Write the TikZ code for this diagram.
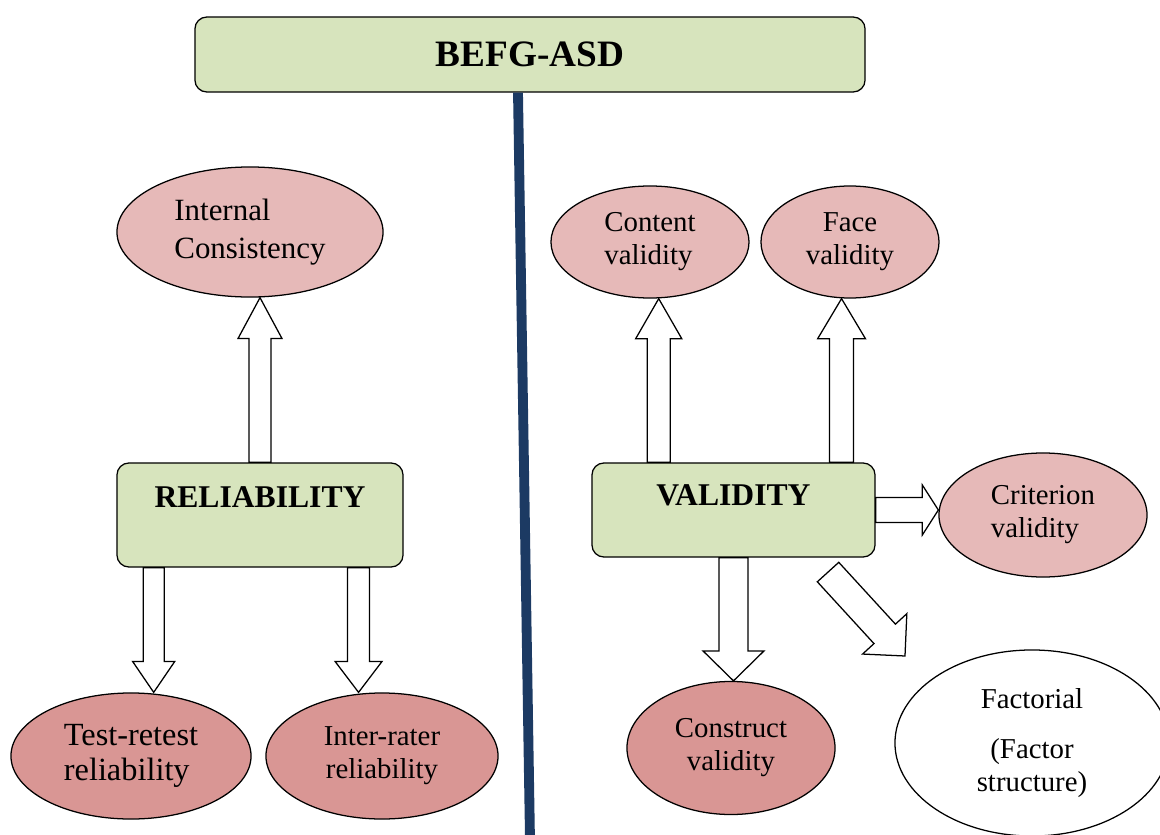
\documentclass[tikz,border=0pt]{standalone}
\usepackage{fontspec}
\setmainfont{Liberation Serif}
\usetikzlibrary{calc,shapes.geometric}

\definecolor{boxgreen}{HTML}{D7E4BD}
\definecolor{pinklt}{HTML}{E6B9B8}
\definecolor{pinkdk}{HTML}{D99694}
\definecolor{divnavy}{HTML}{1C3A63}

% one pixel of the layout grid
\newcommand{\pxu}{0.025cm}

% hollow block arrow: from, to, shaft half width, head half width, head length
\newcommand{\blockarrow}[5]{%
  \draw[hollow] let \p1=(#1), \p2=(#2),
      \n1={atan2(\y2-\y1,\x2-\x1)},
      \n2={veclen(\x2-\x1,\y2-\y1)-#5},
      \n3={#4-#3} in
    ($(\p1)+(\n1-90:#3)$) -- ++(\n1:\n2) -- ++(\n1-90:\n3) -- (\p2)
    -- ($(\p2)+(\n1+180:#5)+(\n1+90:#4)$) -- ++(\n1-90:\n3)
    -- ++(\n1+180:\n2) -- cycle;
}

\begin{document}
\begin{tikzpicture}[
    x=\pxu, y=-\pxu,
    line width=0.9pt,
    % --- node styles ---
    box/.style = {rectangle, draw=black, fill=boxgreen,
                  rounded corners=8.5pt, inner sep=0pt, align=center,
                  font=\bfseries\fontsize{22.5}{26}\selectfont},
    oval/.style = {ellipse, draw=black, inner sep=0pt, align=center,
                   font=\fontsize{20.5}{23.5}\selectfont},
    lightoval/.style = {oval, fill=pinklt},
    darkoval/.style  = {oval, fill=pinkdk},
    hollow/.style  = {draw=black, fill=white, line join=miter},
    divider/.style = {draw=divnavy, line width=7pt},
]
\useasboundingbox (0,0) rectangle (1160,835);

%============ TITLE ============
\node (befg) [box, minimum width=16.75cm, minimum height=1.875cm,
              font=\bfseries\fontsize{26.5}{30}\selectfont] at (530,54.5) {BEFG-ASD};

%============ RELIABILITY SIDE ============
\node (rel) [box, minimum width=7.15cm, text height=1.1cm, text depth=1.5cm]
  at (260,515) {RELIABILITY};

\node (ic) [lightoval, align=left, minimum width=6.65cm, minimum height=3.25cm,
            font=\fontsize{22}{27}\selectfont] at (250,232)
  {Internal\\Consistency};

\node (tr) [darkoval, align=left, minimum width=6cm, minimum height=3.15cm,
            font=\fontsize{23}{25}\selectfont] at (131,756)
  {Test-retest\\reliability};

\node (ir) [darkoval, minimum width=5.8cm, minimum height=3.15cm] at (382,756)
  {Inter-rater\\reliability};

%============ VALIDITY SIDE ============
\node (val) [box, minimum width=7.075cm, text height=1.05cm, text depth=1.3cm]
  at (733.5,510) {VALIDITY};

\node (cv) [lightoval, align=left, minimum width=4.95cm, minimum height=2.8cm]
  at (650,242) {Content\\validity};

\node (fv) [lightoval, minimum width=4.45cm, minimum height=2.8cm]
  at (850,242) {Face\\validity};

\node (crit) [lightoval, align=left, minimum width=5.2cm, minimum height=3.1cm]
  at (1043,515) {Criterion\\validity};

\node (cons) [darkoval, minimum width=5.2cm, minimum height=3.325cm]
  at (731,748) {Construct\\validity};

\node (fact) [oval, fill=white, minimum width=6.85cm, minimum height=4.65cm]
  at (1032,743) {Factorial\\[12pt](Factor\\structure)};

%============ DIVIDER ============
\coordinate (divtop) at ($(befg.south)+(-12,0)$);
\coordinate (divbot) at (530,840);
\draw[divider] (divtop) -- (divbot);

%============ BLOCK ARROWS ============
\coordinate (trS) at ($(rel.south west)!0.13!(rel.south east)$);
\coordinate (irS) at ($(rel.south west)!0.843!(rel.south east)$);
\coordinate (cvS) at ($(val.north west)!0.237!(val.north east)$);
\coordinate (fvS) at ($(val.north west)!0.88!(val.north east)$);
\coordinate (diagS) at (828,572);
\coordinate (diagE) at (905,656);

\blockarrow{rel.north}{rel.north |- ic.south}{7.8pt}{15.6pt}{29pt}
\blockarrow{trS}{trS |- tr.north}{7.5pt}{15pt}{22pt}
\blockarrow{irS}{irS |- ir.north}{7.8pt}{16.7pt}{22pt}

\blockarrow{cvS}{cvS |- cv.south}{8.2pt}{16.4pt}{28.5pt}
\blockarrow{fvS}{fvS |- fv.south}{8.5pt}{17pt}{28.5pt}
\blockarrow{val.east}{val.east -| crit.west}{8.9pt}{17.8pt}{11.4pt}
\blockarrow{val.south}{val.south |- cons.north}{10.3pt}{21.7pt}{21.3pt}
\blockarrow{diagS}{diagE}{10.3pt}{21.3pt}{21.3pt}

\end{tikzpicture}
\end{document}
